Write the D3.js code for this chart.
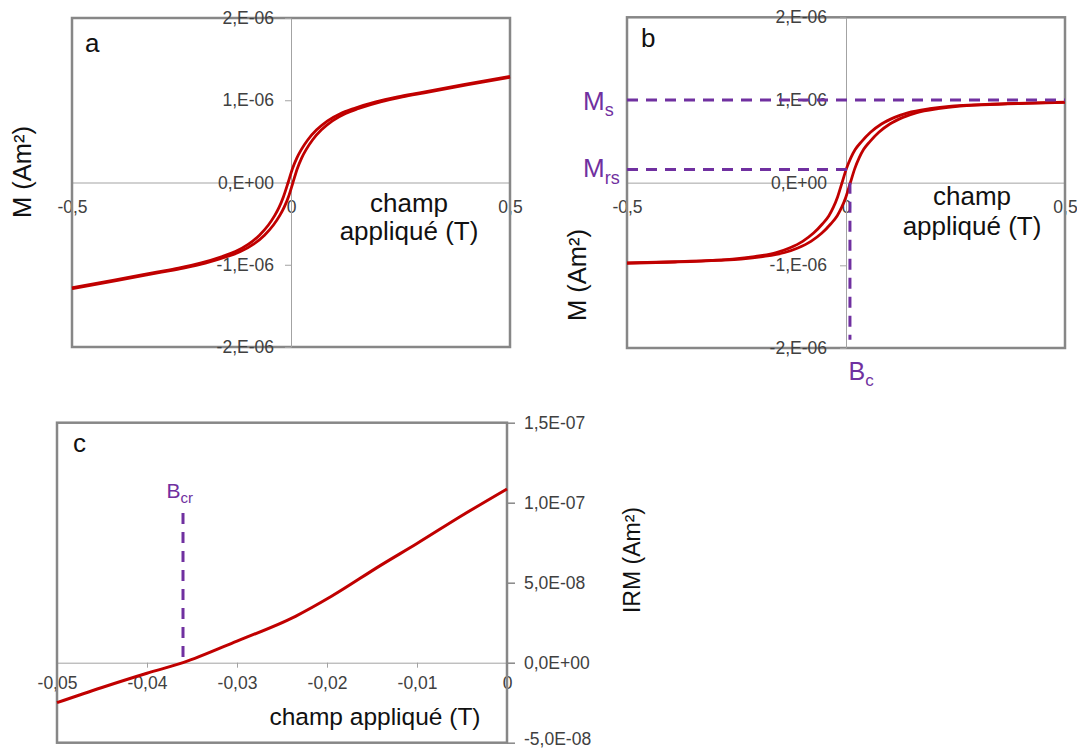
<!DOCTYPE html>
<html><head><meta charset="utf-8">
<script src="https://cdn.jsdelivr.net/npm/d3@7"></script>
<style>
body{margin:0;background:#fff}
svg text{font-family:"Liberation Sans",Arial,sans-serif}
</style>
</head><body>
<svg id="chart" width="1077" height="751"></svg>
<script>
// ---------- DATA ----------
// Panels a & b : magnetic moment in units of 1E-06 Am², field in T
const momentTicks = [2, 1, 0, -1, -2];
const momentTickLabels = ["2,E-06", "1,E-06", "0,E+00", "-1,E-06", "-2,E-06"];
const loopFieldTicks = [-0.5, 0, 0.5];
const loopFieldTickLabels = ["-0,5", "0", "0,5"];

// panel a – descending (upper) branch
const aUpperField = [-0.5, -0.407, -0.307, -0.257, -0.207, -0.157, -0.127, -0.097, -0.072, -0.052, -0.037, -0.027, -0.017, -0.0065, 0.0035, 0.0135, 0.0235, 0.0385, 0.0585, 0.0835, 0.1135, 0.1435, 0.1935, 0.2435, 0.2935, 0.3935, 0.5];
const aUpperMoment = [-1.28, -1.19, -1.09, -1.04, -0.98, -0.9, -0.84, -0.75, -0.64, -0.52, -0.4, -0.3, -0.17, 0, 0.17, 0.3, 0.4, 0.52, 0.64, 0.75, 0.84, 0.9, 0.98, 1.04, 1.09, 1.19, 1.29];
// panel a – ascending (lower) branch
const aLowerField = [-0.5, -0.3955, -0.2955, -0.2455, -0.1955, -0.1455, -0.1155, -0.0855, -0.0605, -0.0405, -0.0255, -0.0155, -0.0055, 0.0045, 0.0145, 0.0245, 0.0345, 0.0495, 0.0695, 0.0945, 0.1245, 0.1545, 0.2045, 0.2545, 0.3045, 0.4045, 0.5];
const aLowerMoment = [-1.29, -1.19, -1.09, -1.04, -0.98, -0.9, -0.84, -0.75, -0.64, -0.52, -0.4, -0.3, -0.17, 0, 0.17, 0.3, 0.4, 0.52, 0.64, 0.75, 0.84, 0.9, 0.98, 1.04, 1.09, 1.19, 1.28];

// panel b – descending (upper) branch
const bUpperField = [-0.5, -0.409, -0.309, -0.259, -0.209, -0.159, -0.129, -0.099, -0.074, -0.054, -0.039, -0.029, -0.019, -0.009, 0.001, 0.011, 0.021, 0.036, 0.056, 0.081, 0.111, 0.141, 0.191, 0.241, 0.291, 0.391, 0.5];
const bUpperMoment = [-0.97, -0.96, -0.94, -0.925, -0.895, -0.845, -0.79, -0.71, -0.61, -0.5, -0.4, -0.3, -0.17, 0, 0.17, 0.3, 0.4, 0.5, 0.61, 0.71, 0.79, 0.845, 0.895, 0.925, 0.94, 0.96, 0.975];
// panel b – ascending (lower) branch
const bLowerField = [-0.5, -0.39, -0.29, -0.24, -0.19, -0.14, -0.11, -0.08, -0.055, -0.035, -0.02, -0.01, 0, 0.01, 0.02, 0.03, 0.04, 0.055, 0.075, 0.1, 0.13, 0.16, 0.21, 0.26, 0.31, 0.41, 0.5];
const bLowerMoment = [-0.975, -0.96, -0.94, -0.925, -0.895, -0.845, -0.79, -0.71, -0.61, -0.5, -0.4, -0.3, -0.17, 0, 0.17, 0.3, 0.4, 0.5, 0.61, 0.71, 0.79, 0.845, 0.895, 0.925, 0.94, 0.96, 0.97];

// panel b annotations (moment in 1E-06 Am², field in T)
const msLevel = 1.0;
const mrsLevel = 0.16;
const mrsFieldEnd = 0.005;
const bcField = 0.009;
const bcLineBottom = -1.9;

// Panel c : IRM in units of 1E-08 Am², field in T
const irmField = [-0.05, -0.045, -0.04, -0.036, -0.03, -0.0235, -0.0195, -0.014, -0.01, -0.005, 0];
const irmValues = [-2.5, -1.55, -0.66, 0, 1.35, 2.9, 4.15, 6.1, 7.45, 9.2, 10.86];
const irmTicks = [15, 10, 5, 0, -5];
const irmTickLabels = ["1,5E-07", "1,0E-07", "5,0E-08", "0,0E+00", "-5,0E-08"];
const irmFieldTicks = [-0.05, -0.04, -0.03, -0.02, -0.01, 0];
const irmFieldTickLabels = ["-0,05", "-0,04", "-0,03", "-0,02", "-0,01", "0"];
const bcrField = -0.036;
const bcrLineTop = 9.35;

// ---------- DRAWING ----------
const RED = "#C00000", PURPLE = "#7030A0", BORDER = "#878787", AXIS = "#a3a3a3", TICKTXT = "#404040";
const svg = d3.select("#chart");

function styleAxis(sel, fontSize) {
  sel.selectAll("path.domain").attr("stroke", AXIS).attr("stroke-width", 1);
  sel.selectAll(".tick line").attr("stroke", AXIS).attr("stroke-width", 1);
  sel.selectAll(".tick text").attr("fill", TICKTXT).style("font-size", fontSize + "px")
     .style("font-family", '"Liberation Sans",Arial,sans-serif');
}

function loopPanel(cfg) {
  const x = d3.scaleLinear().domain([-0.5, 0.5]).range([cfg.x0, cfg.x1]);
  const y = d3.scaleLinear().domain([-2, 2]).range([cfg.y1, cfg.y0]);
  const g = svg.append("g");

  const xa = g.append("g").attr("transform", `translate(0,${y(0)})`)
    .call(d3.axisBottom(x).tickValues(loopFieldTicks)
      .tickFormat((d, i) => loopFieldTickLabels[i]).tickSize(0).tickSizeOuter(0).tickPadding(17.6));
  styleAxis(xa, 17.5);

  const ya = g.append("g").attr("transform", `translate(${x(0)},0)`)
    .call(d3.axisLeft(y).tickValues(momentTicks)
      .tickFormat((d, i) => momentTickLabels[i]).tickSize(6).tickSizeOuter(0).tickPadding(cfg.pad));
  styleAxis(ya, 17.5);

  g.append("rect").attr("x", cfg.x0).attr("y", cfg.y0)
    .attr("width", cfg.x1 - cfg.x0).attr("height", cfg.y1 - cfg.y0)
    .attr("fill", "none").attr("stroke", BORDER).attr("stroke-width", 2.5);

  ya.raise();

  const line = d3.line().x(d => x(d[0])).y(d => y(d[1])).curve(d3.curveMonotoneX);
  [[cfg.uf, cfg.um], [cfg.lf, cfg.lm]].forEach(([f, m]) => {
    g.append("path").datum(f.map((v, i) => [v, m[i]]))
      .attr("d", line).attr("fill", "none").attr("stroke", RED)
      .attr("stroke-width", 2.8).attr("stroke-linejoin", "round");
  });

  g.append("text").attr("x", cfg.letterX).attr("y", cfg.letterY).text(cfg.letter)
    .style("font-size", "26px").attr("fill", "#111");

  g.append("text").attr("transform", `translate(${cfg.ytX},${cfg.ytY}) rotate(-90)`)
    .attr("text-anchor", "middle").style("font-size", "25.5px").attr("fill", "#111")
    .text("M (Am²)");

  const xt = g.append("text").attr("text-anchor", "middle").style("font-size", "26px").attr("fill", "#111");
  xt.append("tspan").attr("x", cfg.xtX).attr("y", cfg.xtY1).text("champ");
  xt.append("tspan").attr("x", cfg.xtX).attr("y", cfg.xtY2).text("appliqué (T)");

  return {x, y, g};
}

const pa = loopPanel({x0: 72, x1: 510, y0: 18, y1: 347, pad: 11,
  uf: aUpperField, um: aUpperMoment, lf: aLowerField, lm: aLowerMoment,
  letter: "a", letterX: 85, letterY: 52, ytX: 31, ytY: 172, xtX: 409, xtY1: 212, xtY2: 240});

const pb = loopPanel({x0: 627, x1: 1065, y0: 17.3, y1: 348, pad: 13,
  uf: bUpperField, um: bUpperMoment, lf: bLowerField, lm: bLowerMoment,
  letter: "b", letterX: 641, letterY: 47, ytX: 586, ytY: 275, xtX: 972, xtY1: 205, xtY2: 235});

const dash = "11,8";
function dashed(g, x1, y1, x2, y2) {
  g.append("line").attr("x1", x1).attr("y1", y1).attr("x2", x2).attr("y2", y2)
    .attr("stroke", PURPLE).attr("stroke-width", 3).attr("stroke-dasharray", dash);
}
dashed(pb.g, pb.x(-0.5), pb.y(msLevel), pb.x(0.5), pb.y(msLevel));
dashed(pb.g, pb.x(-0.5), pb.y(mrsLevel), pb.x(mrsFieldEnd), pb.y(mrsLevel));
dashed(pb.g, pb.x(bcField), pb.y(0), pb.x(bcField), pb.y(bcLineBottom));

function subLabel(g, x, y, main, sub, size, subSize, shift) {
  const t = g.append("text").attr("x", x).attr("y", y).attr("fill", PURPLE).style("font-size", size + "px");
  t.append("tspan").text(main);
  t.append("tspan").attr("dy", shift).style("font-size", subSize + "px").text(sub);
}
subLabel(pb.g, 583, pb.y(msLevel) + 10, "M", "s", 26, 18, 6);
subLabel(pb.g, 583, pb.y(mrsLevel) + 7.5, "M", "rs", 26, 18, 7);
subLabel(pb.g, pb.x(bcField) - 1.5, 380, "B", "c", 25, 17, 6);

// ---------- PANEL C ----------
(function () {
  const x0 = 57, x1 = 507, y0 = 422.7, y1 = 742.7;
  const x = d3.scaleLinear().domain([-0.05, 0]).range([x0, x1]);
  const y = d3.scaleLinear().domain([-5, 15]).range([y1, y0]);
  const g = svg.append("g");

  const xa = g.append("g").attr("transform", `translate(0,${y(0)})`)
    .call(d3.axisBottom(x).tickValues(irmFieldTicks)
      .tickFormat((d, i) => irmFieldTickLabels[i]).tickSize(5).tickSizeOuter(0).tickPadding(9));
  styleAxis(xa, 17.5);

  g.append("rect").attr("x", x0).attr("y", y0).attr("width", x1 - x0).attr("height", y1 - y0)
    .attr("fill", "none").attr("stroke", BORDER).attr("stroke-width", 2.5);

  const ya = g.append("g").attr("transform", `translate(${x1},0)`)
    .call(d3.axisRight(y).tickValues(irmTicks)
      .tickFormat((d, i) => irmTickLabels[i]).tickSize(8).tickSizeOuter(0).tickPadding(9));
  styleAxis(ya, 17.5);
  ya.select("path.domain").attr("stroke", "none");
  ya.selectAll(".tick line").attr("stroke", BORDER).attr("stroke-width", 1.5);
  // keep the lowest label inside the picture
  ya.selectAll(".tick text").filter(d => d === -5).attr("dy", "0.1em");

  const line = d3.line().x(d => x(d[0])).y(d => y(d[1])).curve(d3.curveMonotoneX);
  g.append("path").datum(irmField.map((v, i) => [v, irmValues[i]]))
    .attr("d", line).attr("fill", "none").attr("stroke", RED).attr("stroke-width", 3);

  dashed(g, x(bcrField), y(bcrLineTop), x(bcrField), y(0));
  subLabel(g, x(bcrField) - 16.5, 498, "B", "cr", 21, 15, 5);

  g.append("text").attr("x", 73).attr("y", 452).text("c").style("font-size", "26px").attr("fill", "#111");

  g.append("text").attr("x", 375).attr("y", 725).attr("text-anchor", "middle")
    .style("font-size", "24.5px").attr("fill", "#111").text("champ appliqué (T)");

  g.append("text").attr("transform", `translate(640,560) rotate(-90)`)
    .attr("text-anchor", "middle").style("font-size", "23px").attr("fill", "#111")
    .text("IRM (Am²)");
})();
</script>
</body></html>
